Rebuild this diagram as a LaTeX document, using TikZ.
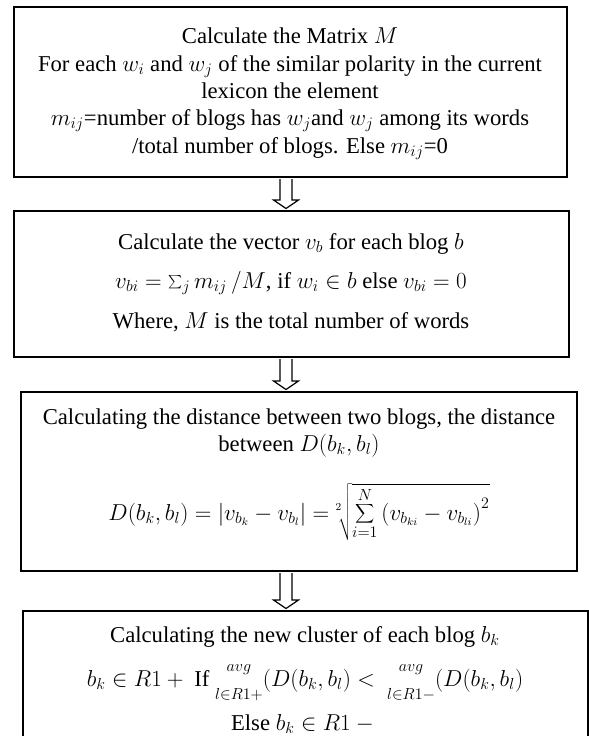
\documentclass[tikz,border=0pt]{standalone}
\usepackage{fontspec}
\setmainfont{Liberation Serif}
\usetikzlibrary{calc,fit}
\begin{document}
\begin{tikzpicture}[x=0.75pt,y=-0.75pt,
  box/.style={draw=black,line width=1.5pt,inner sep=0pt,rectangle},
  txt/.style={anchor=base,inner sep=0pt,font=\fontsize{17}{20}\selectfont},
  hollow/.style={draw=black,line width=0.9pt,fill=white,line join=miter}]
\clip (0,0) rectangle (589,736);
\useasboundingbox (0,0) rectangle (589,736);
% boxes
\node[box,fit={(14,7) (567,177)}] (b1) {};
\node[box,fit={(14,211) (569,357)}] (b2) {};
\node[box,fit={(21,392) (577,571)}] (b3) {};
\node[box,fit={(23,611) (588,800)}] (b4) {};
% box 1 text
\node[txt] (t11) at (290,43) {Calculate the Matrix $M$};
\node[txt] (t12) at (290,71) {For each $w_i$ and $w_j$ of the similar polarity in the current};
\node[txt] (t13) at (290,98) {lexicon the element};
\node[txt] (t14) at (290,125) {$m_{ij}$=number of blogs has $w_j$and $w_j$ among its words};
\node[txt] (t15) at (290,153) {/total number of blogs. Else $m_{ij}$=0};
% box 2 text
\node[txt] (t21) at (291,249) {Calculate the vector $v_b$ for each blog $b$};
\node[txt] (t22) at (291,288) {$v_{bi}=\sum_j m_{ij}\,/M$, if $w_i\in b$ else $v_{bi}=0$};
\node[txt] (t23) at (291,328) {Where, $M$ is the total number of words};
% box 3 text
\node[txt] (t31) at (299,424) {Calculating the distance between two blogs, the distance};
\node[txt] (t32) at (299,451) {between $D(b_k,b_l)$};
\node[txt] (t33) at (299,520) {$\displaystyle D(b_k,b_l)=\left|v_{b_k}-v_{b_l}\right|={}^{\scriptscriptstyle 2}\!\sqrt{\sum_{i=1}^{N}\left(v_{b_{ki}}-v_{b_{li}}\right)^2}$};
% box 4 text
\node[txt] (t41) at (305,642) {Calculating the new cluster of each blog $b_k$};
\node[txt] (t42) at (305,686) {$b_k\in R1+{}$ If $\mathop{\vphantom{x}}\limits^{avg}_{l\in R1+}(D(b_k,b_l)<\ \mathop{\vphantom{x}}\limits^{avg}_{l\in R1-}(D(b_k,b_l)$};
\node[txt] (t43) at (305,730) {Else $b_k\in R1-{}$};
% arrows (hollow down arrows from box to box)
\coordinate (ax) at (286,0);
\foreach \u/\v in {b1/b2,b2/b3,b3/b4}{
  \draw[hollow] ($(\u.south -| ax)+(-6,1)$) -- ($(\v.north -| ax)+(-6,-10)$)
    -- ($(\v.north -| ax)+(-12.5,-10)$) -- ($(\v.north -| ax)+(0,-1.5)$)
    -- ($(\v.north -| ax)+(12.5,-10)$) -- ($(\v.north -| ax)+(6,-10)$)
    -- ($(\u.south -| ax)+(6,1)$);
}
\end{tikzpicture}
\end{document}
